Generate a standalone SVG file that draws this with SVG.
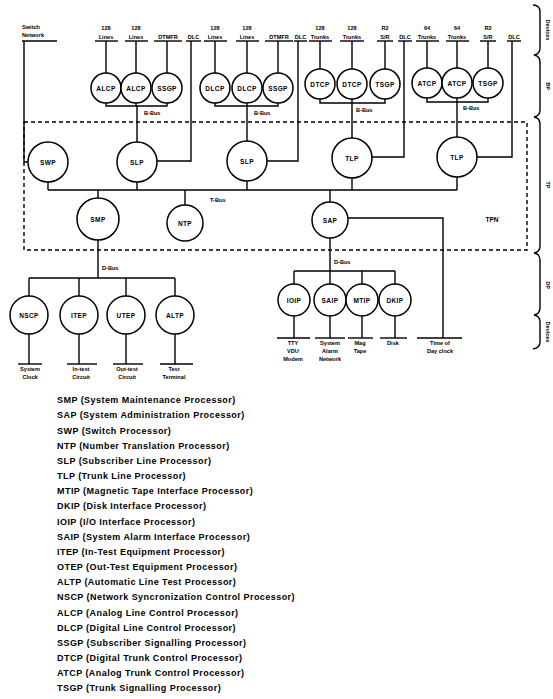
<svg xmlns="http://www.w3.org/2000/svg" width="553" height="699" viewBox="0 0 553 699">
<style>
.bg{fill:#fff}
.n circle{fill:#fff;stroke:#000;stroke-width:1.5}
.n text,.t{font-family:"Liberation Sans",Arial,sans-serif;font-weight:bold;fill:#000;text-anchor:middle}
.n text{font-size:6.5px;letter-spacing:0.4px}
.t{font-size:5.6px}
.l{text-anchor:start}
.c line,.c path,.c polyline{stroke:#000;stroke-width:1.4;fill:none}
.dash{stroke:#000;stroke-width:1.4;fill:none;stroke-dasharray:4 3}
.lg{font-family:"Liberation Sans",Arial,sans-serif;font-weight:bold;font-size:9px;letter-spacing:0.45px;fill:#000}
.side{font-family:"Liberation Sans",Arial,sans-serif;font-weight:bold;font-size:5.5px;fill:#000;text-anchor:middle}
</style>
<rect class="bg" x="0" y="0" width="553" height="699"/>

<!-- dashed TPN boundary -->
<rect class="dash" x="24" y="122" width="503" height="128"/>

<g class="c" id="connectors">
  <!-- top device underlines -->
  <line x1="22" y1="41" x2="57" y2="41"/>
  <line x1="95" y1="41" x2="118" y2="41"/>
  <line x1="125" y1="41" x2="148" y2="41"/>
  <line x1="154" y1="41" x2="182" y2="41"/>
  <line x1="186" y1="41" x2="201" y2="41"/>
  <line x1="204" y1="41" x2="227" y2="41"/>
  <line x1="236" y1="41" x2="259" y2="41"/>
  <line x1="265" y1="41" x2="293" y2="41"/>
  <line x1="294" y1="41" x2="307" y2="41"/>
  <line x1="309" y1="41" x2="332" y2="41"/>
  <line x1="340" y1="41" x2="364" y2="41"/>
  <line x1="377" y1="41" x2="393" y2="41"/>
  <line x1="398" y1="41" x2="412" y2="41"/>
  <line x1="416" y1="41" x2="439" y2="41"/>
  <line x1="446" y1="41" x2="469" y2="41"/>
  <line x1="480" y1="41" x2="496" y2="41"/>
  <line x1="507" y1="41" x2="521" y2="41"/>
  <!-- verticals to top circles -->
  <line x1="106" y1="41" x2="106" y2="73"/>
  <line x1="136" y1="41" x2="136" y2="73"/>
  <line x1="167" y1="41" x2="167" y2="73"/>
  <line x1="215" y1="41" x2="215" y2="73"/>
  <line x1="247" y1="41" x2="247" y2="73"/>
  <line x1="278" y1="41" x2="278" y2="73"/>
  <line x1="320" y1="41" x2="320" y2="69"/>
  <line x1="352" y1="41" x2="352" y2="69"/>
  <line x1="385" y1="41" x2="385" y2="69"/>
  <line x1="427" y1="41" x2="427" y2="68"/>
  <line x1="457" y1="41" x2="457" y2="68"/>
  <line x1="488" y1="41" x2="488" y2="68"/>
  <!-- B-buses -->
  <polyline points="106,103 106,106 167,106 167,103"/>
  <line x1="136" y1="103" x2="136" y2="106"/>
  <line x1="137" y1="106" x2="137" y2="142"/>
  <polyline points="215,103 215,106 278,106 278,103"/>
  <line x1="247" y1="103" x2="247" y2="141"/>
  <polyline points="320,99 320,103 385,103 385,99"/>
  <line x1="352" y1="99" x2="352" y2="138"/>
  <polyline points="427,98 427,102 488,102 488,98"/>
  <line x1="457" y1="98" x2="457" y2="137"/>
  <!-- switch network & DLC lines -->
  <polyline points="24,41 24,162 28,162"/>
  <polyline points="191,41 191,161 157,161"/>
  <polyline points="298,41 298,161 267,161"/>
  <polyline points="404,41 404,157 372,157"/>
  <polyline points="512,41 512,157 477,157"/>
  <!-- T-bus -->
  <line x1="48" y1="190" x2="457" y2="190"/>
  <line x1="48" y1="182" x2="48" y2="190"/>
  <line x1="137" y1="182" x2="137" y2="190"/>
  <line x1="247" y1="181" x2="247" y2="190"/>
  <line x1="352" y1="178" x2="352" y2="190"/>
  <line x1="457" y1="177" x2="457" y2="190"/>
  <line x1="98" y1="190" x2="98" y2="198"/>
  <line x1="185" y1="190" x2="185" y2="205"/>
  <line x1="330" y1="190" x2="330" y2="202"/>
  <!-- left D-bus -->
  <line x1="98" y1="240" x2="98" y2="278"/>
  <line x1="29" y1="278" x2="175" y2="278"/>
  <line x1="29" y1="278" x2="29" y2="296"/>
  <line x1="79" y1="278" x2="79" y2="296"/>
  <line x1="126" y1="278" x2="126" y2="296"/>
  <line x1="175" y1="278" x2="175" y2="296"/>
  <line x1="29" y1="334" x2="29" y2="364"/>
  <line x1="79" y1="334" x2="79" y2="364"/>
  <line x1="126" y1="334" x2="126" y2="364"/>
  <line x1="175" y1="334" x2="175" y2="364"/>
  <line x1="18" y1="364" x2="42" y2="364"/>
  <line x1="67" y1="364" x2="97" y2="364"/>
  <line x1="113" y1="364" x2="143" y2="364"/>
  <line x1="160" y1="364" x2="193" y2="364"/>
  <!-- right D-bus -->
  <line x1="330" y1="238" x2="330" y2="271"/>
  <line x1="294" y1="271" x2="395" y2="271"/>
  <line x1="294" y1="271" x2="294" y2="284"/>
  <line x1="330" y1="271" x2="330" y2="284"/>
  <line x1="362" y1="271" x2="362" y2="284"/>
  <line x1="395" y1="271" x2="395" y2="284"/>
  <line x1="294" y1="316" x2="294" y2="338"/>
  <line x1="330" y1="316" x2="330" y2="338"/>
  <line x1="362" y1="316" x2="362" y2="338"/>
  <line x1="395" y1="316" x2="395" y2="338"/>
  <line x1="277" y1="338" x2="310" y2="338"/>
  <line x1="315" y1="338" x2="345" y2="338"/>
  <line x1="348" y1="338" x2="373" y2="338"/>
  <line x1="380" y1="338" x2="407" y2="338"/>
  <line x1="417" y1="338" x2="462" y2="338"/>
  <polyline points="348,218 443,218 443,338"/>
  <!-- right-hand brace -->
  <path d="M533 5 Q540 5 540 12 L540 48 Q540 54 534 55 Q540 56 540 62 L540 110 Q540 116 534 117 Q540 118 540 124 L540 246 Q540 252 534 253 Q540 254 540 260 L540 308 Q540 314 534 315 Q540 316 540 322 L540 342 Q540 348 533 349"/>
</g>

<!-- top device labels -->
<g id="labels-top">
  <text class="t l" x="22" y="29">Switch</text>
  <text class="t l" x="22" y="37">Network</text>
  <text class="t" x="106" y="30">128</text><text class="t" x="106" y="38.5">Lines</text>
  <text class="t" x="136" y="30">128</text><text class="t" x="136" y="38.5">Lines</text>
  <text class="t" x="168" y="38.5">DTMFR</text>
  <text class="t" x="193.5" y="38.5">DLC</text>
  <text class="t" x="215" y="30">128</text><text class="t" x="215" y="38.5">Lines</text>
  <text class="t" x="247" y="30">128</text><text class="t" x="247" y="38.5">Lines</text>
  <text class="t" x="279" y="38.5">DTMFR</text>
  <text class="t" x="300.5" y="38.5">DLC</text>
  <text class="t" x="320" y="30">128</text><text class="t" x="320" y="38.5">Trunks</text>
  <text class="t" x="352" y="30">128</text><text class="t" x="352" y="38.5">Trunks</text>
  <text class="t" x="385" y="30">R2</text><text class="t" x="385" y="38.5">S/R</text>
  <text class="t" x="405" y="38.5">DLC</text>
  <text class="t" x="427" y="30">64</text><text class="t" x="427" y="38.5">Trunks</text>
  <text class="t" x="457" y="30">64</text><text class="t" x="457" y="38.5">Trunks</text>
  <text class="t" x="488" y="30">R2</text><text class="t" x="488" y="38.5">S/R</text>
  <text class="t" x="514" y="38.5">DLC</text>
</g>

<!-- bus labels -->
<g id="bus-labels">
  <text class="t l" x="144" y="115">B-Bus</text>
  <text class="t l" x="254" y="115">B-Bus</text>
  <text class="t l" x="356" y="112">B-Bus</text>
  <text class="t l" x="463" y="110">B-Bus</text>
  <text class="t l" x="210" y="202">T-Bus</text>
  <text class="t l" x="102" y="270">D-Bus</text>
  <text class="t l" x="334" y="264">D-Bus</text>
  <text class="t" x="492" y="222" style="font-size:6.5px">TPN</text>
</g>

<!-- top controller nodes -->
<g class="n" id="ALCP1"><circle cx="106" cy="88" r="15"/><text x="106" y="90.5">ALCP</text></g>
<g class="n" id="ALCP2"><circle cx="136" cy="88" r="15"/><text x="136" y="90.5">ALCP</text></g>
<g class="n" id="SSGP1"><circle cx="167" cy="88" r="15"/><text x="167" y="90.5">SSGP</text></g>
<g class="n" id="DLCP1"><circle cx="215" cy="88" r="15"/><text x="215" y="90.5">DLCP</text></g>
<g class="n" id="DLCP2"><circle cx="247" cy="88" r="15"/><text x="247" y="90.5">DLCP</text></g>
<g class="n" id="SSGP2"><circle cx="278" cy="88" r="15"/><text x="278" y="90.5">SSGP</text></g>
<g class="n" id="DTCP1"><circle cx="320" cy="84" r="15"/><text x="320" y="86.5">DTCP</text></g>
<g class="n" id="DTCP2"><circle cx="352" cy="84" r="15"/><text x="352" y="86.5">DTCP</text></g>
<g class="n" id="TSGP1"><circle cx="385" cy="84" r="15"/><text x="385" y="86.5">TSGP</text></g>
<g class="n" id="ATCP1"><circle cx="427" cy="83" r="15"/><text x="427" y="85.5">ATCP</text></g>
<g class="n" id="ATCP2"><circle cx="457" cy="83" r="15"/><text x="457" y="85.5">ATCP</text></g>
<g class="n" id="TSGP2"><circle cx="488" cy="83" r="15"/><text x="488" y="85.5">TSGP</text></g>

<!-- TP level nodes -->
<g class="n" id="SWP"><circle cx="48" cy="162" r="20"/><text x="48" y="164.5">SWP</text></g>
<g class="n" id="SLP1"><circle cx="137" cy="162" r="20"/><text x="137" y="164.5">SLP</text></g>
<g class="n" id="SLP2"><circle cx="247" cy="161" r="20"/><text x="247" y="163.5">SLP</text></g>
<g class="n" id="TLP1"><circle cx="352" cy="158" r="20"/><text x="352" y="160.5">TLP</text></g>
<g class="n" id="TLP2"><circle cx="457" cy="157" r="20"/><text x="457" y="159.5">TLP</text></g>
<g class="n" id="SMP"><circle cx="98" cy="219" r="21"/><text x="98" y="221.5">SMP</text></g>
<g class="n" id="NTP"><circle cx="185" cy="223" r="18"/><text x="185" y="225.5">NTP</text></g>
<g class="n" id="SAP"><circle cx="330" cy="220" r="18"/><text x="330" y="222.5">SAP</text></g>

<!-- DP level nodes -->
<g class="n" id="NSCP"><circle cx="29" cy="315" r="19"/><text x="29" y="317.5">NSCP</text></g>
<g class="n" id="ITEP"><circle cx="79" cy="315" r="19"/><text x="79" y="317.5">ITEP</text></g>
<g class="n" id="UTEP"><circle cx="126" cy="315" r="19"/><text x="126" y="317.5">UTEP</text></g>
<g class="n" id="ALTP"><circle cx="175" cy="315" r="19"/><text x="175" y="317.5">ALTP</text></g>
<g class="n" id="IOIP"><circle cx="294" cy="300" r="16"/><text x="294" y="302.5">IOIP</text></g>
<g class="n" id="SAIP"><circle cx="330" cy="300" r="16"/><text x="330" y="302.5">SAIP</text></g>
<g class="n" id="MTIP"><circle cx="362" cy="300" r="16"/><text x="362" y="302.5">MTIP</text></g>
<g class="n" id="DKIP"><circle cx="395" cy="300" r="16"/><text x="395" y="302.5">DKIP</text></g>

<!-- bottom device labels -->
<g id="labels-bottom">
  <text class="t" x="30" y="371">System</text><text class="t" x="30" y="379">Clock</text>
  <text class="t" x="81" y="371">In-test</text><text class="t" x="81" y="379">Circuit</text>
  <text class="t" x="127" y="371">Out-test</text><text class="t" x="127" y="379">Circuit</text>
  <text class="t" x="174" y="371">Test</text><text class="t" x="174" y="379">Terminal</text>
  <text class="t" x="293" y="345">TTY</text><text class="t" x="293" y="353">VDU</text><text class="t" x="293" y="361">Modem</text>
  <text class="t" x="330" y="345">System</text><text class="t" x="330" y="353">Alarm</text><text class="t" x="330" y="361">Network</text>
  <text class="t" x="360" y="345">Mag</text><text class="t" x="360" y="353">Tape</text>
  <text class="t" x="393" y="345">Disk</text>
  <text class="t" x="440" y="345">Time of</text><text class="t" x="440" y="353">Day clock</text>
</g>

<!-- level labels at right -->
<g id="levels">
  <text class="side" transform="translate(546 30) rotate(90)">Devices</text>
  <text class="side" transform="translate(546 86) rotate(90)">BP</text>
  <text class="side" transform="translate(546 185) rotate(90)">TP</text>
  <text class="side" transform="translate(546 285) rotate(90)">DP</text>
  <text class="side" transform="translate(546 332) rotate(90)">Devices</text>
</g>

<!-- legend -->
<g id="legend" class="lg">
  <text x="57" y="403">SMP (System Maintenance Processor)</text>
  <text x="57" y="418">SAP (System Administration Processor)</text>
  <text x="57" y="433.5">SWP (Switch Processor)</text>
  <text x="57" y="448.5">NTP (Number Translation Processor)</text>
  <text x="57" y="463.5">SLP (Subscriber Line Processor)</text>
  <text x="57" y="479">TLP (Trunk Line Processor)</text>
  <text x="57" y="494">MTIP (Magnetic Tape Interface Processor)</text>
  <text x="57" y="509">DKIP (Disk Interface Processor)</text>
  <text x="57" y="524.5">IOIP (I/O Interface Processor)</text>
  <text x="57" y="539.5">SAIP (System Alarm Interface Processor)</text>
  <text x="57" y="554.5">ITEP (In-Test Equipment Processor)</text>
  <text x="57" y="570">OTEP (Out-Test Equipment Processor)</text>
  <text x="57" y="585">ALTP (Automatic Line Test Processor)</text>
  <text x="57" y="600">NSCP (Network Syncronization Control Processor)</text>
  <text x="57" y="615.5">ALCP (Analog Line Control Processor)</text>
  <text x="57" y="630.5">DLCP (Digital Line Control Processor)</text>
  <text x="57" y="645.5">SSGP (Subscriber Signalling Processor)</text>
  <text x="57" y="661">DTCP (Digital Trunk Control Processor)</text>
  <text x="57" y="676">ATCP (Analog Trunk Control Processor)</text>
  <text x="57" y="691">TSGP (Trunk Signalling Processor)</text>
</g>
</svg>
